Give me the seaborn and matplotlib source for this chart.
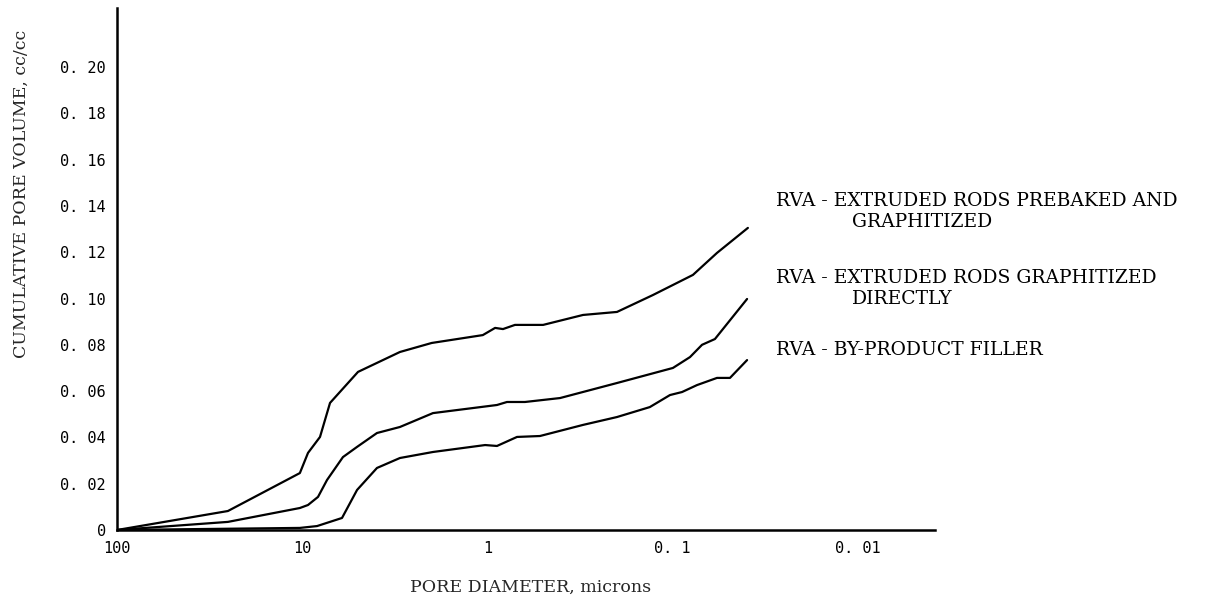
import numpy as np
import pandas as pd
import matplotlib
matplotlib.use("Agg")
import matplotlib.pyplot as plt
import seaborn as sns

# ---- data ----
prebaked_d = [100, 25.2, 10.3, 9.31, 8.02, 7.08, 5.00, 2.97, 2.00, 1.06, 0.91, 0.825,
              0.711, 0.501, 0.305, 0.200, 0.128, 0.0778, 0.0577, 0.0393]
prebaked_v = [0, 0.0082, 0.0246, 0.0333, 0.0402, 0.0549, 0.0683, 0.0769, 0.0808, 0.0842,
              0.0873, 0.0868, 0.0886, 0.0886, 0.0929, 0.0942, 0.1015, 0.1102, 0.1197, 0.1305]

direct_d = [100, 25.2, 10.3, 9.31, 8.22, 7.35, 6.03, 5.06, 3.95, 2.97, 1.97, 0.889, 0.785,
            0.628, 0.406, 0.200, 0.0998, 0.0807, 0.0695, 0.0592, 0.0397]
direct_v = [0, 0.0035, 0.0095, 0.0108, 0.0143, 0.0216, 0.0315, 0.0359, 0.0419, 0.0445, 0.0505,
            0.0540, 0.0553, 0.0553, 0.0570, 0.0635, 0.0700, 0.0747, 0.0800, 0.0825, 0.0998]

filler_d = [100, 10.3, 8.32, 6.10, 5.06, 3.95, 2.97, 1.97, 1.03, 0.889, 0.693, 0.521, 0.305,
            0.200, 0.133, 0.1035, 0.0891, 0.0740, 0.0577, 0.0491, 0.0397]
filler_v = [0, 0.0009, 0.0017, 0.0052, 0.0173, 0.0268, 0.0311, 0.0337, 0.0367, 0.0363, 0.0402,
            0.0406, 0.0454, 0.0488, 0.0531, 0.0583, 0.0596, 0.0626, 0.0657, 0.0657, 0.0734]

series_labels = ["RVA - EXTRUDED RODS PREBAKED AND\nGRAPHITIZED",
                 "RVA - EXTRUDED RODS GRAPHITIZED\nDIRECTLY",
                 "RVA - BY-PRODUCT FILLER"]

x_ticks = [100, 10, 1, 0.1, 0.01]
x_tick_labels = ["100", "10", "1", "0. 1", "0. 01"]
y_ticks = [0, 0.02, 0.04, 0.06, 0.08, 0.10, 0.12, 0.14, 0.16, 0.18, 0.20]
y_tick_labels = ["0", "0. 02", "0. 04", "0. 06", "0. 08", "0. 10", "0. 12", "0. 14",
                 "0. 16", "0. 18", "0. 20"]

x_label = "PORE DIAMETER, microns"
y_label = "CUMULATIVE PORE VOLUME, cc/cc"

# ---- build frame ----
frames = []
for name, d, v in zip(series_labels, [prebaked_d, direct_d, filler_d],
                      [prebaked_v, direct_v, filler_v]):
    frames.append(pd.DataFrame({"diameter": d, "volume": v, "series": name}))
df = pd.concat(frames, ignore_index=True)

sns.set_style("white")
plt.rcParams["font.family"] = ["DejaVu Serif"]

fig = plt.figure(figsize=(12.29, 5.99), dpi=100)
ax = fig.add_axes([117 / 1229, 1 - 530 / 599, (935 - 117) / 1229, (530 - 8) / 599])

sns.lineplot(data=df, x="diameter", y="volume", units="series", estimator=None,
             sort=False, color="black", linewidth=1.6, ax=ax, legend=False)

ax.set_xscale("log")
ax.set_xlim(100, 0.00384)
ax.set_ylim(0, 0.2255)

ax.set_xticks(x_ticks)
ax.set_xticklabels(x_tick_labels)
ax.xaxis.set_minor_locator(matplotlib.ticker.NullLocator())
ax.set_yticks(y_ticks)
ax.set_yticklabels(y_tick_labels)

mono = "DejaVu Sans Mono"
for lab in ax.get_xticklabels() + ax.get_yticklabels():
    lab.set_fontfamily(mono)
    lab.set_fontsize(11)

ax.tick_params(axis="both", direction="in", length=5, width=1.5, colors="black", pad=8)

for s in ["top", "right"]:
    ax.spines[s].set_visible(False)
for s in ["left", "bottom"]:
    ax.spines[s].set_color("black")
    ax.spines[s].set_linewidth(1.8)

ax.set_xlabel(x_label, fontsize=12.5)
ax.set_ylabel(y_label, fontsize=12.5)
ax.xaxis.set_label_coords(0.506, -0.093)
ax.yaxis.set_label_coords(-0.107, 0.644)

# series annotations: first line at x=776 px, continuation aligned under the description
line_y = [(201, 222), (278, 299), (350, None)]
for text, (y1, y2) in zip(series_labels, line_y):
    parts = text.split("\n")
    fig.text(776 / 1229, 1 - y1 / 599, parts[0], fontsize=13.5, va="center", ha="left",
             color="black")
    if len(parts) > 1:
        fig.text(852 / 1229, 1 - y2 / 599, parts[1], fontsize=13.5, va="center", ha="left",
                 color="black")

fig.savefig("out.png", dpi=100, facecolor="white")
